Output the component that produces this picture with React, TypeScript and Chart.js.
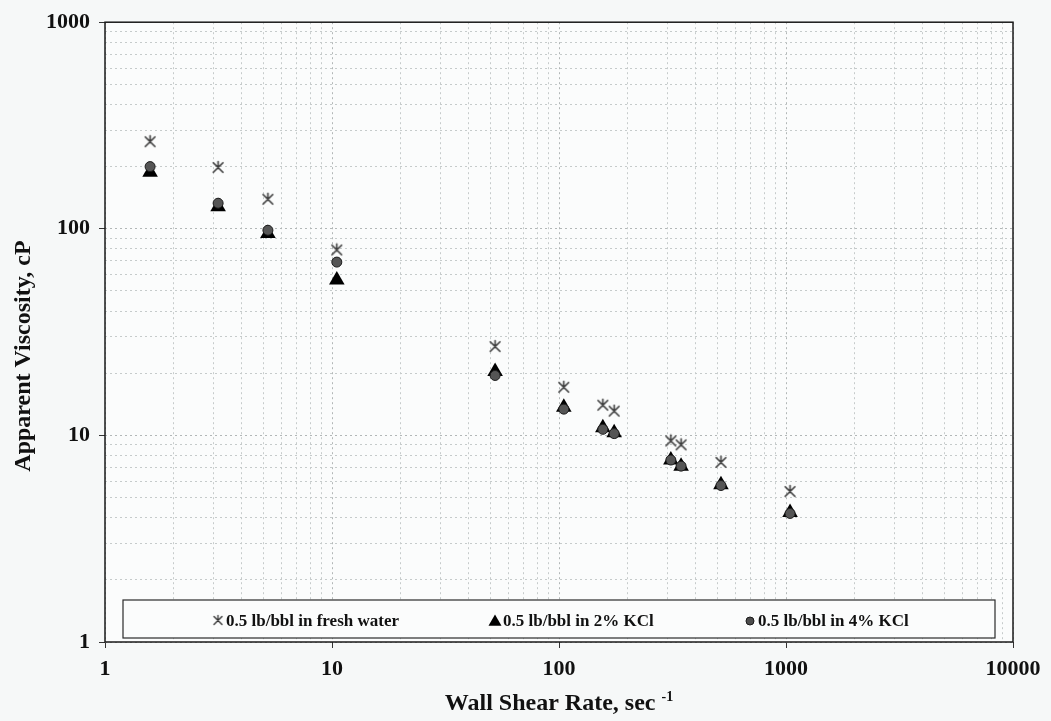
import { useEffect, useRef } from "react";
import { Chart, registerables } from "chart.js";

Chart.register(...registerables);

// Measured apparent viscosity vs wall shear rate
const shearRates = [1.58, 3.15, 5.22, 10.5, 52.3, 105, 156, 175, 311, 345, 517, 1042];
const freshWater = [264, 198, 139, 79, 26.9, 17.1, 14.0, 13.1, 9.4, 9.0, 7.4, 5.35];
const kcl2 = [188, 128, 95, 56.5, 20.4, 13.7, 10.9, 10.3, 7.6, 7.1, 5.77, 4.24];
const kcl4 = [200, 133, 98.4, 69, 19.5, 13.4, 10.7, 10.2, 7.6, 7.1, 5.72, 4.19];

const seriesLabels = [
  "0.5 lb/bbl in fresh water",
  "0.5 lb/bbl in 2% KCl",
  "0.5 lb/bbl in 4% KCl",
];

const xTickLabels = ["1", "10", "100", "1000", "10000"];
const yTickLabels = ["1", "10", "100", "1000"];
const xAxisTitle = "Wall Shear Rate, sec";
const xAxisTitleSup = "-1";
const yAxisTitle = "Apparent Viscosity, cP";

const FONT = "'Liberation Serif', 'Times New Roman', serif";
const BG = "#f6f8f8";
const INK = "#111111";

const isDecade = (v: number) => Math.abs(Math.log10(v) - Math.round(Math.log10(v))) < 1e-9;

// 1..9 x 10^k grid positions between min and max
const logGrid = (min: number, max: number) => {
  const out: number[] = [];
  for (let e = Math.round(Math.log10(min)); e <= Math.round(Math.log10(max)); e++) {
    for (let m = 1; m <= 9; m++) {
      const v = m * Math.pow(10, e);
      if (v >= min - 1e-9 && v <= max + 1e-9) out.push(v);
    }
  }
  return out;
};

function makeStar(size: number, color: string, lw: number) {
  const c = document.createElement("canvas");
  c.width = size;
  c.height = size;
  const g = c.getContext("2d")!;
  const m = size / 2;
  const r = size / 2 - 1.5;
  g.strokeStyle = color;
  g.lineWidth = lw;
  g.lineCap = "round";
  g.beginPath();
  g.moveTo(m - r * 0.8, m - r * 0.8);
  g.lineTo(m + r * 0.8, m + r * 0.8);
  g.moveTo(m + r * 0.8, m - r * 0.8);
  g.lineTo(m - r * 0.8, m + r * 0.8);
  g.moveTo(m, m - r);
  g.lineTo(m, m + r * 0.15);
  g.stroke();
  return c;
}

function drawTriangle(ctx: CanvasRenderingContext2D, x: number, y: number, r: number) {
  ctx.beginPath();
  ctx.moveTo(x, y - r);
  ctx.lineTo(x + r * Math.sin(Math.PI / 3), y + r / 2);
  ctx.lineTo(x - r * Math.sin(Math.PI / 3), y + r / 2);
  ctx.closePath();
  ctx.fill();
}

export default function App() {
  const canvasRef = useRef<HTMLCanvasElement | null>(null);

  useEffect(() => {
    const canvas = canvasRef.current;
    if (!canvas) return;

    const starPoint = makeStar(15, "#3c3c3c", 1.6);
    const starLegend = makeStar(13, "#333333", 1.3);

    const framePlugin = {
      id: "frameAndTitles",
      beforeDraw(chart: any) {
        const { ctx, width, height, chartArea: a } = chart;
        ctx.save();
        ctx.fillStyle = BG;
        ctx.fillRect(0, 0, width, height);
        ctx.fillStyle = "#fbfcfc";
        ctx.fillRect(a.left, a.top, a.right - a.left, a.bottom - a.top);
        ctx.restore();
      },
      afterDraw(chart: any) {
        const { ctx, chartArea: a } = chart;
        ctx.save();
        // plot frame
        ctx.strokeStyle = "#1a1a1a";
        ctx.lineWidth = 1.5;
        ctx.strokeRect(a.left, a.top, a.right - a.left, a.bottom - a.top);

        // y axis title
        ctx.fillStyle = INK;
        ctx.font = `bold 24px ${FONT}`;
        ctx.textAlign = "center";
        ctx.textBaseline = "middle";
        ctx.translate(24, 356);
        ctx.rotate(-Math.PI / 2);
        ctx.fillText(yAxisTitle, 0, 0);
        ctx.setTransform(1, 0, 0, 1, 0, 0);

        // x axis title with superscript
        ctx.font = `bold 24px ${FONT}`;
        const w1 = ctx.measureText(xAxisTitle).width;
        ctx.font = `bold 14px ${FONT}`;
        const w2 = ctx.measureText(xAxisTitleSup).width;
        const gap = 6;
        const total = w1 + gap + w2;
        const cx = (a.left + a.right) / 2;
        const x0 = cx - total / 2;
        const base = 710;
        ctx.textAlign = "left";
        ctx.textBaseline = "alphabetic";
        ctx.font = `bold 24px ${FONT}`;
        ctx.fillText(xAxisTitle, x0, base);
        ctx.font = `bold 14px ${FONT}`;
        ctx.fillText(xAxisTitleSup, x0 + w1 + gap, base - 9);
        ctx.restore();
      },
      afterDatasetsDraw(chart: any) {
        const { ctx, chartArea: a } = chart;
        ctx.save();
        const left = a.left + 18;
        const right = a.right - 18;
        const top = a.bottom - 42;
        const bottom = a.bottom - 4;
        ctx.fillStyle = "#fbfcfc";
        ctx.fillRect(left, top, right - left, bottom - top);
        ctx.strokeStyle = "#2a2a2a";
        ctx.lineWidth = 1.2;
        ctx.strokeRect(left, top, right - left, bottom - top);

        const midY = (top + bottom) / 2 + 2;
        const markerX = [left + 95, left + 372, left + 627];
        ctx.font = `bold 17px ${FONT}`;
        ctx.textBaseline = "middle";
        ctx.textAlign = "left";
        seriesLabels.forEach((label, i) => {
          const mx = markerX[i];
          if (i === 0) {
            ctx.drawImage(starLegend, mx - 6.5, midY - 7);
          } else if (i === 1) {
            ctx.fillStyle = "#000";
            drawTriangle(ctx, mx, midY + 1, 7.5);
          } else {
            ctx.fillStyle = "#4d4d4d";
            ctx.strokeStyle = "#1a1a1a";
            ctx.lineWidth = 1;
            ctx.beginPath();
            ctx.arc(mx, midY, 4, 0, Math.PI * 2);
            ctx.fill();
            ctx.stroke();
          }
          ctx.fillStyle = INK;
          ctx.fillText(label, mx + 8, midY + 1);
        });
        ctx.restore();
      },
    };

    const gridColor = (ctx: any) =>
      ctx.tick && isDecade(ctx.tick.value) ? "#b2b7b7" : "#c6cbcb";
    const tickColor = (ctx: any) =>
      ctx.tick && isDecade(ctx.tick.value) ? "#333" : "rgba(0,0,0,0)";

    const toPoints = (ys: number[]) => shearRates.map((x, i) => ({ x, y: ys[i] }));

    const chart = new Chart(canvas, {
      type: "scatter",
      data: {
        datasets: [
          {
            label: seriesLabels[0],
            data: toPoints(freshWater),
            pointStyle: starPoint as any,
            pointRadius: 7,
            showLine: false,
            order: 2,
          },
          {
            label: seriesLabels[1],
            data: toPoints(kcl2),
            pointStyle: "triangle",
            pointRadius: 9,
            backgroundColor: "#000",
            borderColor: "#000",
            borderWidth: 0,
            showLine: false,
            order: 1,
          },
          {
            label: seriesLabels[2],
            data: toPoints(kcl4),
            pointStyle: "circle",
            pointRadius: 5,
            backgroundColor: "#555",
            borderColor: "#1c1c1c",
            borderWidth: 1,
            showLine: false,
            order: 0,
          },
        ],
      },
      options: {
        responsive: false,
        animation: false,
        devicePixelRatio: 1,
        events: [],
        layout: { padding: { top: 17, right: 38, left: 0, bottom: 0 } },
        plugins: {
          legend: { display: false },
          tooltip: { enabled: false },
        },
        scales: {
          x: {
            type: "logarithmic",
            min: 1,
            max: 10000,
            afterBuildTicks: (scale: any) => {
              scale.ticks = logGrid(1, 10000).map((v) => ({ value: v, major: isDecade(v) }));
            },
            afterFit: (scale: any) => {
              scale.height = 79;
            },
            ticks: {
              autoSkip: false,
              maxRotation: 0,
              padding: 8,
              color: INK,
              font: { family: FONT, size: 22, weight: "bold" },
              callback: (v: any) => {
                const n = Number(v);
                if (!isDecade(n)) return "";
                return xTickLabels[Math.round(Math.log10(n))] ?? "";
              },
            },
            grid: {
              color: gridColor,
              lineWidth: 1,
              drawTicks: true,
              tickLength: 6,
              tickColor: tickColor,
              tickWidth: 1,
            },
            border: { display: false, dash: [2, 3] },
          },
          y: {
            type: "logarithmic",
            min: 1,
            max: 1000,
            afterBuildTicks: (scale: any) => {
              scale.ticks = logGrid(1, 1000).map((v) => ({ value: v, major: isDecade(v) }));
            },
            afterFit: (scale: any) => {
              scale.width = 105;
            },
            ticks: {
              autoSkip: false,
              padding: 9,
              color: INK,
              font: { family: FONT, size: 22, weight: "bold" },
              callback: (v: any) => {
                const n = Number(v);
                if (!isDecade(n)) return "";
                return yTickLabels[Math.round(Math.log10(n))] ?? "";
              },
            },
            grid: {
              color: gridColor,
              lineWidth: 1,
              drawTicks: true,
              tickLength: 6,
              tickColor: tickColor,
              tickWidth: 1,
            },
            border: { display: false, dash: [2, 3] },
          },
        },
      },
      plugins: [framePlugin],
    } as any);

    return () => {
      chart.destroy();
    };
  }, []);

  return (
    <div
      style={{
        position: "fixed",
        left: 0,
        top: 0,
        width: 1051,
        height: 721,
        background: BG,
      }}
    >
      <canvas ref={canvasRef} width={1051} height={721} style={{ display: "block" }} />
    </div>
  );
}
